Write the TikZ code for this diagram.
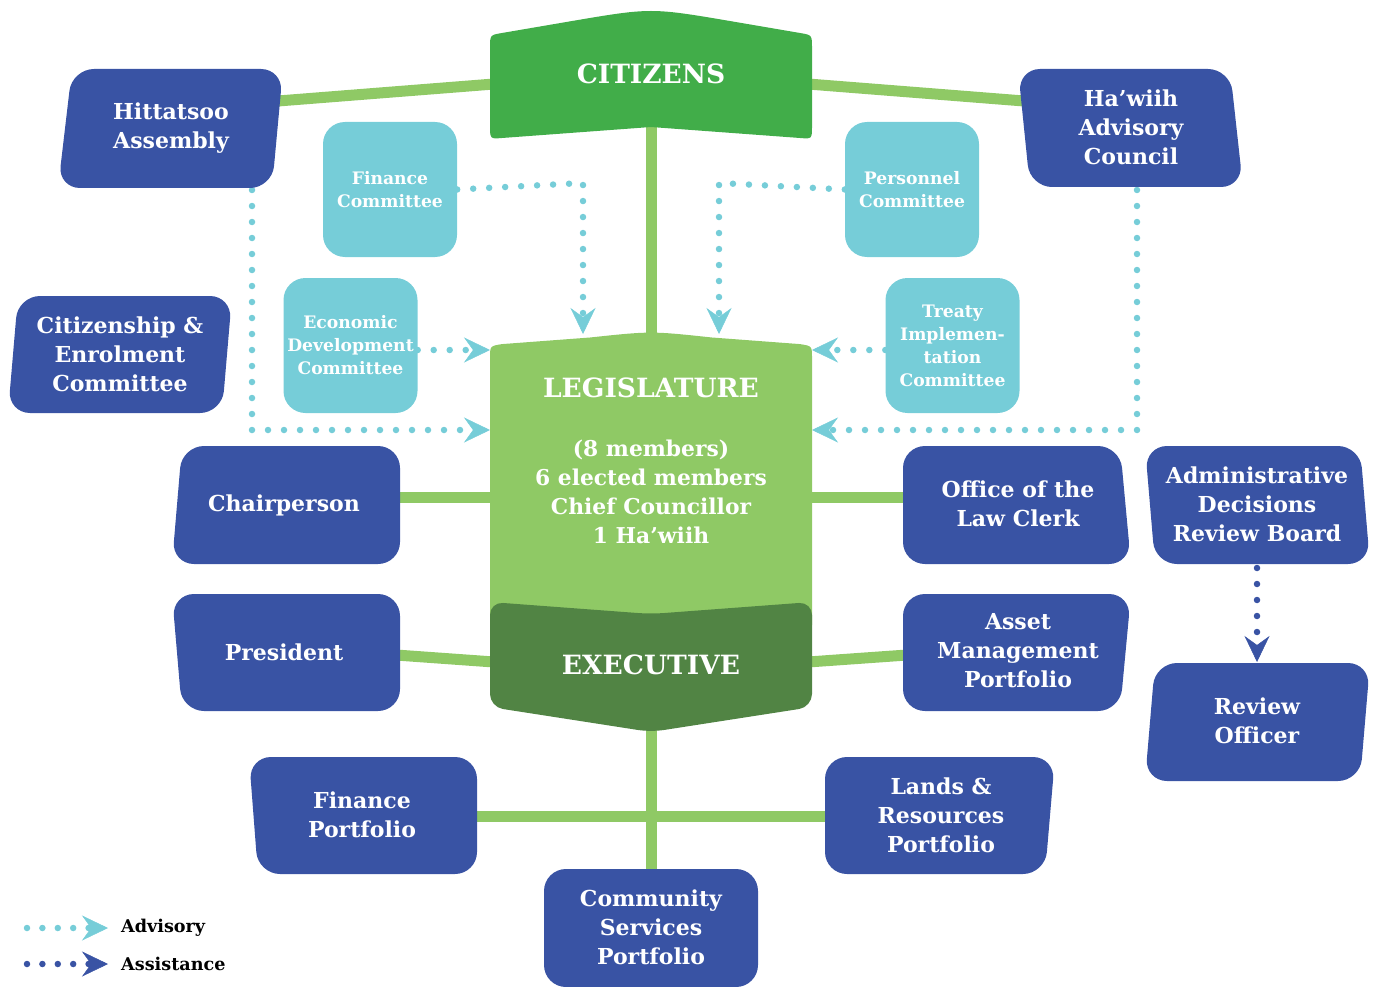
\documentclass[tikz,border=0pt]{standalone}
\usepackage{fontspec}
\setmainfont{DejaVu Serif}
\usetikzlibrary{arrows.meta}
\definecolor{cgreen}{HTML}{41AD49}
\definecolor{lgreen}{HTML}{8FC965}
\definecolor{dgreen}{HTML}{518444}
\definecolor{nblue}{HTML}{3953A4}
\definecolor{tealc}{HTML}{76CDD8}
\tikzset{
  bluebox/.style={fill=nblue, rounded corners=22pt},
  lbl/.style={text=white, font=\bfseries\fontsize{22}{29}\selectfont, align=center, inner sep=0pt},
  tealbox/.style={fill=tealc, rounded corners=22pt, minimum width=134pt, minimum height=135pt, text=white, font=\bfseries\fontsize{17.2}{23}\selectfont, align=center, inner sep=0pt},
  link/.style={draw=lgreen, line width=11pt},
  advtip/.style={-{Stealth[length=26pt,width=25pt,inset=9pt,line width=0.5pt]}},
  adv/.style={draw=tealc, line width=6.5pt, dash pattern=on 0pt off 16pt, line cap=round, advtip},
  asst/.style={draw=nblue, line width=6.5pt, dash pattern=on 0pt off 16pt, line cap=round, advtip},
  big/.style={text=white, font=\bfseries\fontsize{26.5}{30}\selectfont, inner sep=0pt},
  legtext/.style={anchor=west, font=\bfseries\fontsize{17.6}{20}\selectfont, inner sep=0pt}
}
\begin{document}
\begin{tikzpicture}[x=1pt,y=-1pt]
\useasboundingbox (0,0) rectangle (1375,987);
% ---------- coordinates ----------
\coordinate (citL) at (494,84);
\coordinate (citR) at (808,84);
\coordinate (citB) at (651,125);
\coordinate (hitR) at (278,101);
\coordinate (hawL) at (1024,101);
\coordinate (legT) at (651,338);
\coordinate (chR) at (396,497);
\coordinate (legL) at (494,497);
\coordinate (ofL) at (907,497);
\coordinate (legR) at (808,497);
\coordinate (prR) at (396,655);
\coordinate (exL) at (494,662);
\coordinate (asL) at (907,655);
\coordinate (exR) at (808,662);
\coordinate (exB) at (651,725);
\coordinate (fpR) at (473,816);
\coordinate (lrL) at (829,816);
\coordinate (csT) at (651,873);
% advisory end points
\coordinate (fcK) at (583,183);
\coordinate (fcT) at (583,334);
\coordinate (pcK) at (719,183);
\coordinate (pcT) at (719,334);
\coordinate (edT) at (490,350);
\coordinate (tiT) at (812,350);
\coordinate (hitB) at (252,190);
\coordinate (hitK) at (252,430);
\coordinate (hitT) at (490,430);
\coordinate (hawB) at (1137,190);
\coordinate (hawK) at (1137,430);
\coordinate (hawT) at (812,430);
\coordinate (adB) at (1257,568);
\coordinate (roT) at (1257,662);
\coordinate (lgA1) at (27,928);
\coordinate (lgA2) at (108,928);
\coordinate (lgB1) at (27,964);
\coordinate (lgB2) at (108,964);
% ---------- green links ----------
\draw[link] (hitR) -- (citL);
\draw[link] (citR) -- (hawL);
\draw[link] (citB) -- (legT);
\draw[link] (chR) -- (legL);
\draw[link] (ofL) -- (legR);
\draw[link] (prR) -- (exL);
\draw[link] (asL) -- (exR);
\draw[link] (exB) -- (csT);
\draw[link] (fpR) -- (lrL);
% ---------- teal boxes ----------
\node[tealbox] (fc) at (390,189.5) {Finance\\Committee};
\node[tealbox] (pc) at (912,189.5) {Personnel\\Committee};
\node[tealbox] (ed) at (350.5,345.5) {Economic\\Development\\Committee};
\node[tealbox] (ti) at (952.5,345.5) {Treaty\\Implemen-\\tation\\Committee};
% ---------- advisory connectors ----------
\draw[adv] (fc.east) -- (fcK) -- (fcT);
\draw[adv] (pc.west) -- (pcK) -- (pcT);
\draw[adv] (ed.east |- edT) -- (edT);
\draw[adv] (ti.west |- tiT) -- (tiT);
\draw[adv] (hitB) -- (hitK) -- (hitT);
\draw[adv] (hawB) -- (hawK) -- (hawT);
\draw[asst] (adB) -- (roT);
% ---------- green main shapes ----------
\fill[cgreen] (490,125) -- (490,48) .. controls (490,35) .. (502,33) -- (571,21.2) .. controls (651,7.6) .. (731,21.2) -- (800,33) .. controls (812,35) .. (812,48) -- (812,126) .. controls (812,139) .. (800,138) -- (651,127) -- (502,138) .. controls (490,139) .. (490,125) -- cycle;
\fill[lgreen] (490,625) -- (490,358) .. controls (490,346) .. (502,344.1) -- (590,337.5) .. controls (651,331) .. (712,337.5) -- (800,344.1) .. controls (812,346) .. (812,358) -- (812,625) -- cycle;
\fill[dgreen, rounded corners=13pt] (490,602) -- (651,614) -- (812,602) -- (812,707) -- (651,732) -- (490,707) -- cycle;
\node[big] (cit) at (651,74) {CITIZENS};
\node[big] (leg) at (651,388) {LEGISLATURE};
\node[lbl, font=\bfseries\fontsize{21.8}{29}\selectfont] (legtxt) at (651,492) {(8 members)\\6 elected members\\Chief Councillor\\1 Ha’wiih};
\node[big] (exe) at (651,665) {EXECUTIVE};
% ---------- blue boxes ----------
\fill[bluebox] (72,69) -- (283,69) -- (272,188) -- (58,188) -- cycle;
\node[lbl] (hit) at (171,128) {Hittatsoo\\Assembly};
\fill[bluebox] (1018,69) -- (1230,69) -- (1243,187) -- (1030,187) -- cycle;
\node[lbl] (haw) at (1131,127) {Ha’wiih\\Advisory\\Council};
\fill[bluebox] (18,296) -- (232,296) -- (222,413) -- (8,413) -- cycle;
\node[lbl] (ce) at (120,354) {Citizenship \&\\Enrolment\\Committee};
\fill[bluebox] (182,446) -- (400,446) -- (400,564) -- (172,564) -- cycle;
\node[lbl] (ch) at (284,505) {Chairperson};
\fill[bluebox] (172,594) -- (400,594) -- (400,711) -- (182,711) -- cycle;
\node[lbl] (pr) at (284,652) {President};
\fill[bluebox] (903,446) -- (1120,446) -- (1131,564) -- (903,564) -- cycle;
\node[lbl] (of) at (1018,504) {Office of the\\Law Clerk};
\fill[bluebox] (903,594) -- (1131,594) -- (1120,711) -- (903,711) -- cycle;
\node[lbl] (as) at (1018,651) {Asset\\Management\\Portfolio};
\fill[bluebox] (249,757) -- (477,757) -- (477,874) -- (258,874) -- cycle;
\node[lbl] (fp) at (362,815) {Finance\\Portfolio};
\fill[bluebox] (825,757) -- (1055,757) -- (1045,874) -- (825,874) -- cycle;
\node[lbl] (lr) at (941,815) {Lands \&\\Resources\\Portfolio};
\fill[bluebox] (544,869) rectangle (758,987);
\node[lbl] (cs) at (651,927) {Community\\Services\\Portfolio};
\fill[bluebox] (1145,446) -- (1360,446) -- (1370,564) -- (1155,564) -- cycle;
\node[lbl] (ad) at (1257,504) {Administrative\\Decisions\\Review Board};
\fill[bluebox] (1155,663) -- (1370,663) -- (1360,781) -- (1145,781) -- cycle;
\node[lbl] (ro) at (1257,721) {Review\\Officer};
% ---------- legend ----------
\draw[adv, dash pattern=on 0pt off 15.4pt] (lgA1) -- (lgA2);
\draw[asst, dash pattern=on 0pt off 15.4pt] (lgB1) -- (lgB2);
\node[legtext] (lga) at (121,928) {Advisory};
\node[legtext] (lgb) at (121,964) {Assistance};
\end{tikzpicture}
\end{document}
